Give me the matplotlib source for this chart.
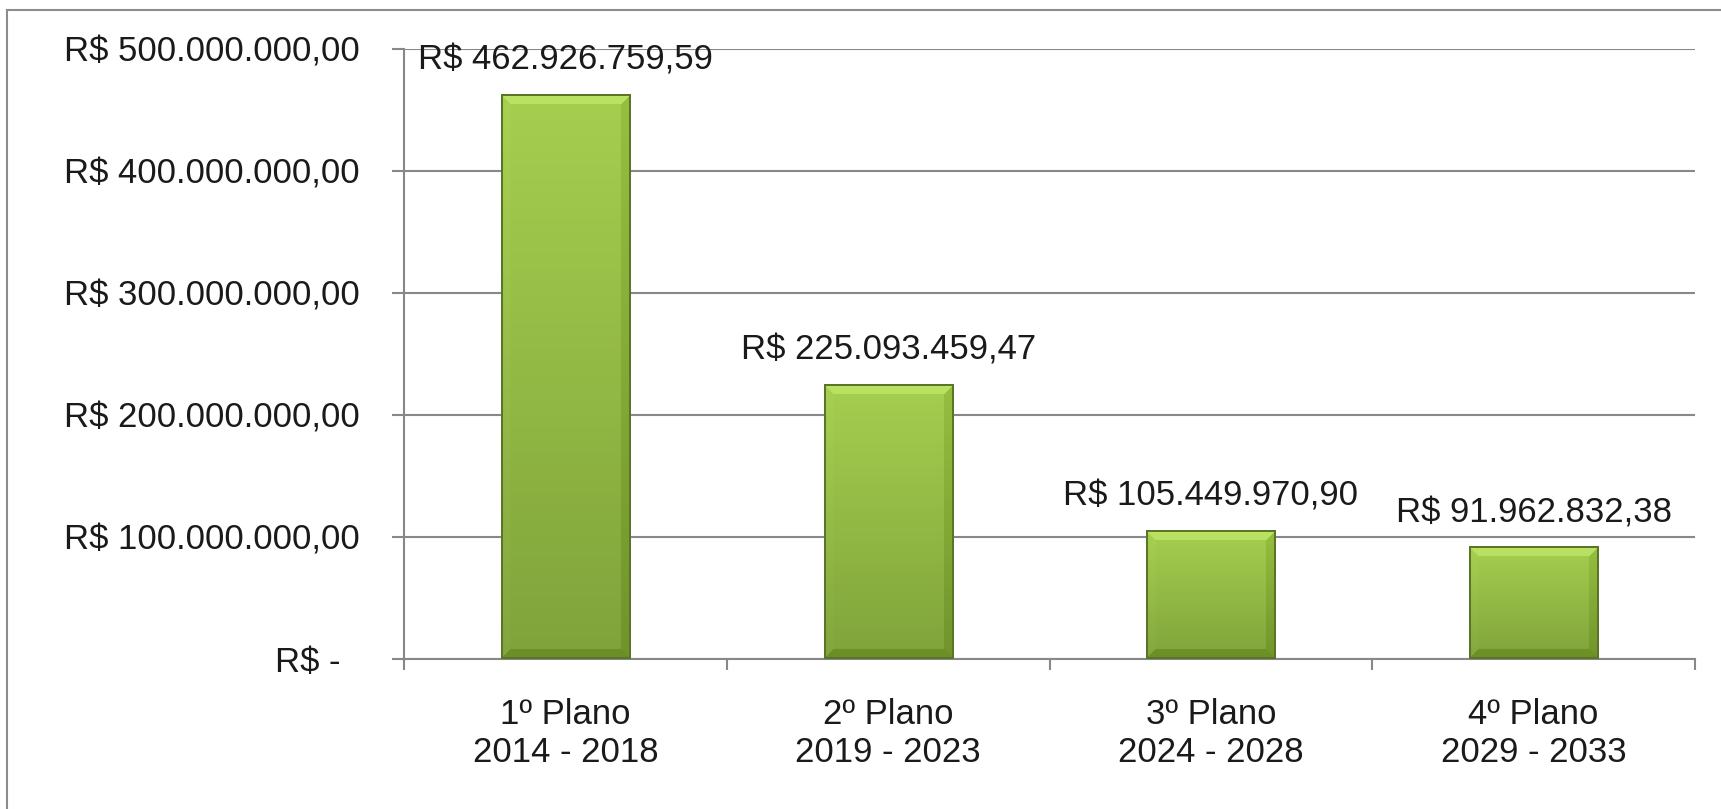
import numpy as np
import matplotlib
matplotlib.use("Agg")
import matplotlib.pyplot as plt
from matplotlib.ticker import FuncFormatter, FixedLocator
from matplotlib.lines import Line2D

plt.rcParams['font.family'] = ['Liberation Sans', 'DejaVu Sans']

# valores por plano decenal
planos = ['1º Plano\n2014 - 2018', '2º Plano\n2019 - 2023',
          '3º Plano\n2024 - 2028', '4º Plano\n2029 - 2033']
valores = [462926759.59, 225093459.47, 105449970.90, 91962832.38]
yticks = [0, 100e6, 200e6, 300e6, 400e6, 500e6]


def brl(v):
    s = f"{v:,.2f}".replace(",", "X").replace(".", ",").replace("X", ".")
    return "R$ " + s


def brl_tick(v, pos=None):
    if v == 0:
        return "R$ -  "
    return brl(v)


W, H, DPI = 1721, 809, 100
FS = 25
fig = plt.figure(figsize=(W / DPI, H / DPI), dpi=DPI)
ax = fig.add_axes([404 / W, 1 - 659 / H, (1695 - 404) / W, (659 - 49) / H])

x = np.arange(len(planos))
bars = ax.bar(x, valores, width=0.40, color='#93b944', zorder=2)
ax.set_xlim(-0.5, len(planos) - 0.5)
ax.set_ylim(0, 500e6)

# preenchimento em degradê com chanfro, no estilo do Excel
top_c = np.array([0.65, 0.81, 0.31])
bot_c = np.array([0.50, 0.64, 0.23])
edge_c = np.array([0.36, 0.46, 0.16])
for b in bars:
    x0, y0 = b.get_x(), b.get_y()
    x1, y1 = x0 + b.get_width(), y0 + b.get_height()
    (px0, py0), (px1, py1) = ax.transData.transform([(x0, y0), (x1, y1)])
    w = max(int(round(px1 - px0)), 4)
    h = max(int(round(py1 - py0)), 4)
    t = np.linspace(0, 1, h)[:, None, None]
    img = top_c * (1 - t) + bot_c * t
    img = np.repeat(img, w, axis=1)
    ii, jj = np.mgrid[0:h, 0:w]
    dt, db, dl, dr = ii, h - 1 - ii, jj, w - 1 - jj
    d = np.stack([dt, db, dl, dr])
    which = d.argmin(axis=0)
    near = d.min(axis=0) < 10
    shade = np.array([0.08, -0.08, 0.01, -0.06])[which] * near
    img = np.clip(img + shade[..., None], 0, 1)
    border = d.min(axis=0) < 2
    img[border] = edge_c
    ax.imshow(img, extent=(x0, x1, y0, y1), aspect='auto',
              interpolation='bilinear', zorder=3)

ax.set_xlim(-0.5, len(planos) - 0.5)
ax.set_ylim(0, 500e6)

for b, v in zip(bars, valores):
    ax.annotate(brl(v), (b.get_x() + b.get_width() / 2, v),
                xytext=(0, 24.5), textcoords='offset points',
                ha='center', va='center', fontsize=FS, color='#1a1a1a',
                zorder=5)

grid_c = '#888888'
ax.yaxis.set_major_locator(FixedLocator(yticks))
ax.yaxis.set_major_formatter(FuncFormatter(brl_tick))
ax.yaxis.grid(True, color=grid_c, linewidth=1.5, zorder=1)
ax.set_axisbelow(True)

ax.xaxis.set_major_locator(FixedLocator(np.arange(len(planos) + 1) - 0.5))
ax.xaxis.set_major_formatter(FuncFormatter(lambda v, p: ""))
ax.xaxis.set_minor_locator(FixedLocator(x))
ax.set_xticklabels(planos, minor=True)

ax.tick_params(axis='y', direction='out', length=9, width=1.5, color=grid_c,
               pad=23, labelsize=FS, labelcolor='#1a1a1a')
ax.tick_params(axis='x', which='major', direction='out', length=8,
               width=1.5, color=grid_c)
ax.tick_params(axis='x', which='minor', length=0, pad=28, labelsize=FS,
               labelcolor='#1a1a1a')

for s in ['top', 'right']:
    ax.spines[s].set_visible(False)
for s in ['left', 'bottom']:
    ax.spines[s].set_color(grid_c)
    ax.spines[s].set_linewidth(1.5)

# moldura da área do gráfico
fc = '#8c8c8c'
fig.add_artist(Line2D([7 / W, 7 / W], [0, 1 - 10 / H], color=fc, lw=1.5))
fig.add_artist(Line2D([7 / W, 1], [1 - 10 / H, 1 - 10 / H], color=fc, lw=1.5))

fig.savefig('out.png', dpi=DPI)
